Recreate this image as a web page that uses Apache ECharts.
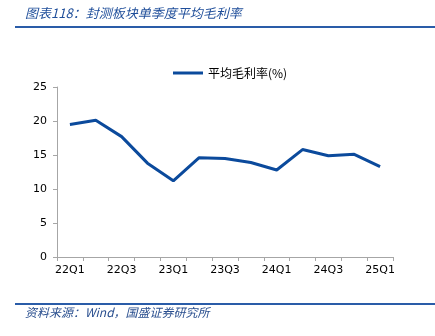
<!DOCTYPE html>
<html>
<head>
<meta charset="utf-8">
<script src="https://cdn.jsdelivr.net/npm/echarts@6/dist/echarts.min.js"></script>
<style>
  html, body { margin: 0; padding: 0; background: #fff; }
  #chart { width: 435px; height: 336px; }
</style>
</head>
<body>
<div id="chart"></div>
<script>
// Quarterly average gross margin of the packaging & testing sector
const quarters = ['22Q1','22Q2','22Q3','22Q4','23Q1','23Q2','23Q3','23Q4','24Q1','24Q2','24Q3','24Q4','25Q1'];
const grossMargin = [19.5, 20.1, 17.7, 13.8, 11.2, 14.6, 14.5, 13.9, 12.8, 15.8, 14.9, 15.1, 13.3];
const yTicks = [0, 5, 10, 15, 20, 25];

const titleText = '图表118：封测板块单季度平均毛利率';
const sourceText = '资料来源：Wind，国盛证券研究所';
const seriesName = '平均毛利率(%)';

const blue = '#0b4a9c';
const ruleBlue = '#2a5ca8';
const axisGray = '#a6a6a6';

const chart = echarts.init(document.getElementById('chart'));
chart.setOption({
  animation: false,
  backgroundColor: '#fff',
  graphic: [
    { type: 'text', left: 25, top: 7,
      style: { text: titleText, fill: '#1f4e9a', fontSize: 13, fontStyle: 'italic',
               fontFamily: '"Noto Sans CJK SC", sans-serif' } },
    { type: 'rect', shape: { x: 15, y: 26, width: 420, height: 2 }, style: { fill: ruleBlue } },
    { type: 'rect', shape: { x: 15, y: 303, width: 420, height: 2 }, style: { fill: ruleBlue } },
    { type: 'text', left: 25, top: 306,
      style: { text: sourceText, fill: '#2a4f8f', fontSize: 12, fontStyle: 'italic',
               fontFamily: '"Noto Sans CJK SC", sans-serif' } }
  ],
  legend: {
    top: 62, left: 168,
    itemWidth: 30, itemHeight: 3, itemGap: 6,
    icon: 'rect',
    textStyle: { fontSize: 12, color: '#000', fontFamily: '"Noto Sans CJK SC", sans-serif' },
    data: [{ name: seriesName }]
  },
  grid: { left: 57, right: 42, top: 87, bottom: 79 },
  xAxis: {
    type: 'category',
    data: quarters,
    boundaryGap: true,
    axisLine: { lineStyle: { color: axisGray, width: 1 } },
    axisTick: { show: true, alignWithLabel: false, interval: 0, length: 4, lineStyle: { color: axisGray } },
    axisLabel: { interval: 1, color: '#000', fontSize: 11, margin: 8, fontFamily: '"DejaVu Sans", sans-serif' }
  },
  yAxis: {
    type: 'value',
    min: 0, max: 25, interval: 5,
    axisLine: { show: true, lineStyle: { color: axisGray, width: 1 } },
    axisTick: { show: true, length: 4, inside: false, lineStyle: { color: axisGray } },
    splitLine: { show: false },
    axisLabel: {
      color: '#000', fontSize: 11, margin: 10, fontFamily: '"DejaVu Sans", sans-serif',
      formatter: v => (yTicks.includes(v) ? String(v) : '')
    }
  },
  series: [{
    name: seriesName,
    type: 'line',
    data: grossMargin,
    symbol: 'none',
    lineStyle: { color: blue, width: 3 },
    itemStyle: { color: blue }
  }]
});
</script>
</body>
</html>
